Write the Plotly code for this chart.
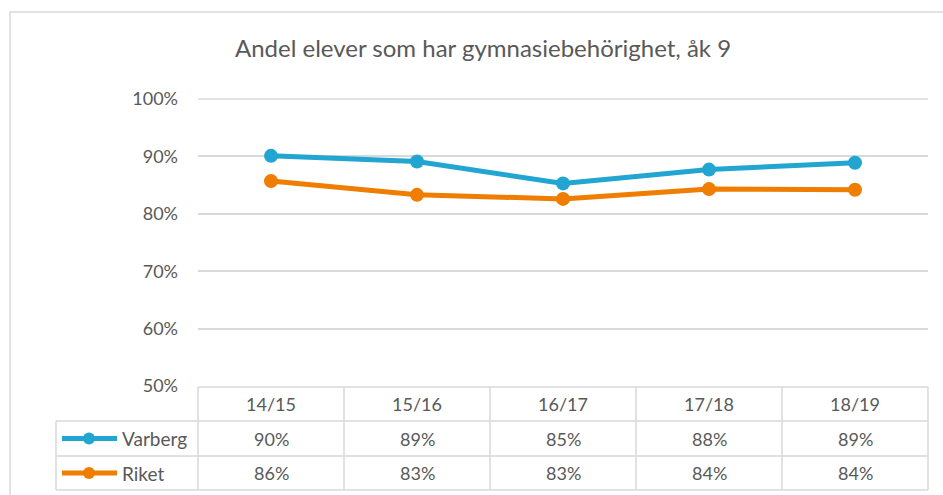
import plotly.graph_objects as go

categories = ["14/15", "15/16", "16/17", "17/18", "18/19"]
varberg = [0.901, 0.891, 0.853, 0.877, 0.889]
riket = [0.857, 0.833, 0.826, 0.843, 0.842]
series_names = ["Varberg", "Riket"]
colors = ["#22A5D0", "#EE7D00"]
title_text = "Andel elever som har gymnasiebehörighet, åk 9"

W, H = 943, 495
GRID = "#D9D9D9"
TXT = "#595959"
FONT = "Lato, Calibri, Carlito, sans-serif"


def px(x):
    return x / W


def py(y):
    return 1 - y / H


plot_left, plot_right = 198, 928
plot_top, plot_bottom = 99, 386
legend_left = 56
row_lines = [387, 421, 456, 490]

fig = go.Figure()
for name, vals, col in zip(series_names, [varberg, riket], colors):
    fig.add_trace(go.Scatter(
        x=categories, y=vals, name=name, mode="lines+markers",
        line=dict(color=col, width=5),
        marker=dict(color=col, size=14),
        showlegend=False, hoverinfo="skip", cliponaxis=False,
    ))

shapes = []
# outer chart border
shapes.append(dict(type="rect", xref="paper", yref="paper",
                   x0=px(10), x1=px(W + 20), y0=py(12), y1=py(H + 20),
                   line=dict(color=GRID, width=1.5), fillcolor="rgba(0,0,0,0)", layer="below"))
# top gridline (at the range edge, which plotly leaves out)
shapes.append(dict(type="line", xref="x domain", yref="y domain", x0=0, x1=1, y0=1, y1=1,
                   line=dict(color=GRID, width=1.5), layer="below"))
# horizontal table lines
for i, ry in enumerate(row_lines):
    x0 = plot_left if i == 0 else legend_left
    shapes.append(dict(type="line", xref="paper", yref="paper",
                       x0=px(x0), x1=px(plot_right), y0=py(ry), y1=py(ry),
                       line=dict(color=GRID, width=1.5)))
# vertical table lines: outer edges
for d in (0, 1):
    shapes.append(dict(type="line", xref="x domain", yref="paper",
                       x0=d, x1=d, y0=py(row_lines[0]), y1=py(row_lines[-1]),
                       line=dict(color=GRID, width=1.5)))
# interior category boundaries
for i in range(len(categories) - 1):
    shapes.append(dict(type="line", xref="x", yref="paper",
                       x0=i + 0.5, x1=i + 0.5, y0=py(row_lines[0]), y1=py(row_lines[-1]),
                       line=dict(color=GRID, width=1.5)))
# legend column left edge
shapes.append(dict(type="line", xref="paper", yref="paper",
                   x0=px(legend_left), x1=px(legend_left), y0=py(row_lines[1]), y1=py(row_lines[-1]),
                   line=dict(color=GRID, width=1.5)))

annotations = []
annotations.append(dict(text=title_text, xref="paper", yref="paper", x=px(483), y=py(48),
                        xanchor="center", yanchor="middle", showarrow=False,
                        font=dict(family=FONT, size=24, color=TXT)))
header_y = (row_lines[0] + row_lines[1]) / 2
for c in categories:
    annotations.append(dict(text=c, xref="x", yref="paper", x=c, y=py(header_y),
                            xanchor="center", yanchor="middle", showarrow=False,
                            font=dict(family=FONT, size=18, color=TXT)))
for r, (name, vals, col) in enumerate(zip(series_names, [varberg, riket], colors)):
    cy = (row_lines[r + 1] + row_lines[r + 2]) / 2
    for c, v in zip(categories, vals):
        annotations.append(dict(text=f"{round(v * 100)}%", xref="x", yref="paper", x=c, y=py(cy),
                                xanchor="center", yanchor="middle", showarrow=False,
                                font=dict(family=FONT, size=18, color=TXT)))
    # legend key
    shapes.append(dict(type="line", xref="paper", yref="paper",
                       x0=px(62), x1=px(117), y0=py(cy), y1=py(cy),
                       line=dict(color=col, width=5)))
    shapes.append(dict(type="circle", xref="paper", yref="paper",
                       x0=px(89 - 6), x1=px(89 + 6), y0=py(cy - 6), y1=py(cy + 6),
                       line=dict(color=col, width=0), fillcolor=col))
    annotations.append(dict(text=name, xref="paper", yref="paper", x=px(120), y=py(cy),
                            xanchor="left", yanchor="middle", showarrow=False,
                            font=dict(family=FONT, size=19, color=TXT)))

fig.update_layout(
    width=W, height=H,
    margin=dict(l=0, r=0, t=0, b=0, autoexpand=False),
    paper_bgcolor="white", plot_bgcolor="white",
    shapes=shapes, annotations=annotations,
    xaxis=dict(domain=[px(plot_left), px(plot_right)], range=[-0.5, len(categories) - 0.5],
               showticklabels=False, showgrid=False, zeroline=False, showline=False,
               type="category", fixedrange=True, automargin=False),
    yaxis=dict(domain=[py(plot_bottom), py(plot_top)], range=[0.5, 1.0],
               tickvals=[0.5, 0.6, 0.7, 0.8, 0.9, 1.0], tickformat=".0%",
               showgrid=True, gridcolor=GRID, gridwidth=1.5,
               zeroline=False, showline=False, ticklabelstandoff=19, automargin=False,
               tickfont=dict(family=FONT, size=18, color=TXT), fixedrange=True),
)

fig.write_html("out.html", config={"displayModeBar": False},
               post_script="document.body.style.margin='0';document.body.style.overflow='hidden';")
